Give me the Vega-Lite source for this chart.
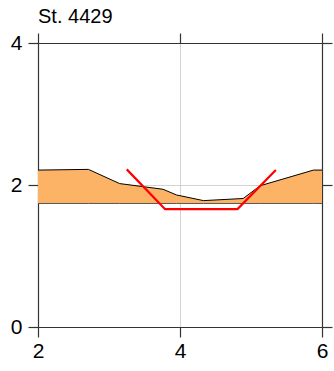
{
  "$schema": "https://vega.github.io/schema/vega-lite/v6.json",
  "width": 284,
  "height": 284,
  "autosize": {"type": "none"},
  "padding": {"left": 38, "top": 43, "right": 12, "bottom": 44},
  "background": "white",
  "title": {"text": "St. 4429", "anchor": "start", "frame": "group", "font": "Liberation Sans", "fontSize": 20, "fontWeight": "normal", "color": "#000", "offset": 5},
  "config": {
    "view": {"stroke": null},
    "axis": {"labelFont": "Liberation Sans", "labelFontSize": 21, "labelColor": "#000", "domainColor": "#333", "domainWidth": 1.2, "tickColor": "#333", "tickWidth": 1.2, "tickSize": 10, "gridColor": "#c8c8c8", "gridWidth": 0.8, "title": null, "labelPadding": 5}
  },
  "datasets": {
    "bank": [
      {"x": 2.0, "top": 2.21, "base": 1.74},
      {"x": 2.71, "top": 2.22, "base": 1.74},
      {"x": 3.15, "top": 2.02, "base": 1.74},
      {"x": 3.76, "top": 1.94, "base": 1.74},
      {"x": 3.95, "top": 1.86, "base": 1.74},
      {"x": 4.33, "top": 1.78, "base": 1.74},
      {"x": 4.89, "top": 1.81, "base": 1.74},
      {"x": 5.13, "top": 1.99, "base": 1.74},
      {"x": 5.88, "top": 2.21, "base": 1.74},
      {"x": 6.0, "top": 2.21, "base": 1.74}
    ],
    "channel": [
      {"x": 3.25, "y": 2.22, "o": 1},
      {"x": 3.79, "y": 1.66, "o": 2},
      {"x": 4.81, "y": 1.66, "o": 3},
      {"x": 5.35, "y": 2.21, "o": 4}
    ]
  },
  "layer": [
    {
      "data": {"name": "bank"},
      "mark": {"type": "area", "color": "#FDB366", "opacity": 1},
      "encoding": {
        "x": {"field": "x", "type": "quantitative", "scale": {"domain": [2, 6], "nice": false, "zero": false},
              "axis": {"values": [2, 4, 6], "orient": "bottom", "grid": true, "format": "d", "labelFlush": false, "labelPadding": 3}},
        "y": {"field": "top", "type": "quantitative", "scale": {"domain": [0, 4], "nice": false},
              "axis": {"values": [0, 2, 4], "orient": "left", "grid": true, "format": "d", "labelPadding": 6}},
        "y2": {"field": "base"}
      }
    },
    {
      "data": {"name": "bank"},
      "mark": {"type": "line", "color": "#000", "strokeWidth": 1},
      "encoding": {
        "x": {"field": "x", "type": "quantitative", "scale": {"domain": [2, 6], "nice": false, "zero": false}, "axis": {"values": [2, 4, 6], "orient": "top", "labels": false, "grid": false}},
        "y": {"field": "top", "type": "quantitative", "scale": {"domain": [0, 4], "nice": false}, "axis": {"values": [0, 2, 4], "orient": "right", "labels": false, "grid": false}}
      }
    },
    {
      "data": {"name": "bank"},
      "mark": {"type": "line", "color": "#555", "strokeWidth": 1},
      "encoding": {
        "x": {"field": "x", "type": "quantitative", "scale": {"domain": [2, 6], "nice": false, "zero": false}, "axis": null},
        "y": {"field": "base", "type": "quantitative", "scale": {"domain": [0, 4], "nice": false}, "axis": null}
      }
    },
    {
      "data": {"name": "channel"},
      "mark": {"type": "line", "color": "#FF0000", "strokeWidth": 2.2},
      "encoding": {
        "x": {"field": "x", "type": "quantitative", "scale": {"domain": [2, 6], "nice": false, "zero": false}, "axis": null},
        "y": {"field": "y", "type": "quantitative", "scale": {"domain": [0, 4], "nice": false}, "axis": null},
        "order": {"field": "o"}
      }
    }
  ],
  "resolve": {"axis": {"x": "independent", "y": "independent"}}
}
